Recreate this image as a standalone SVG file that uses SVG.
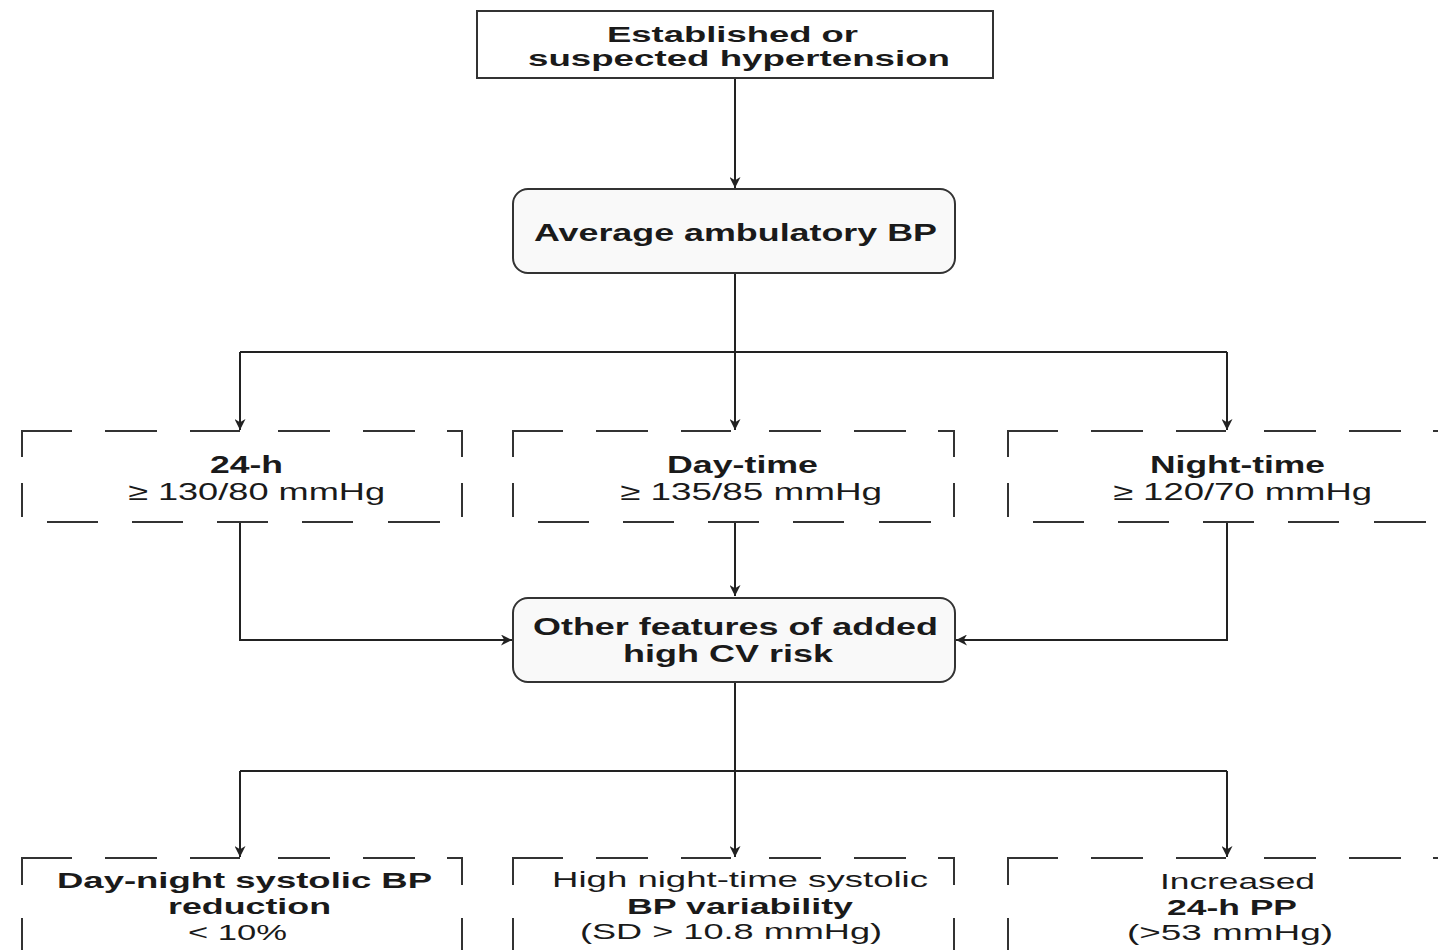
<svg xmlns="http://www.w3.org/2000/svg" width="1438" height="950" viewBox="0 0 1438 950">
<defs>
<marker id="arr" viewBox="0 0 10 10" refX="10" refY="5" markerWidth="11" markerHeight="11" markerUnits="userSpaceOnUse" orient="auto">
<path d="M0,0 L10,5 L0,10 L3,5 z" fill="#222"/>
</marker>
<style>
.box{fill:#fff;stroke:#333;stroke-width:2}
.rbox{fill:#f9f9f9;stroke:#333;stroke-width:2}
.dash{fill:none;stroke:#333;stroke-width:2}
.con{fill:none;stroke:#222;stroke-width:2}
.t{font-family:"Liberation Sans",Arial,sans-serif;fill:#1a1a1a}
.b{font-weight:bold}
</style>
</defs>
<rect width="1438" height="950" fill="#fff"/>

<g id="connectors">
<path class="con" d="M735,78 V188" marker-end="url(#arr)"/>
<path class="con" d="M735,273 V352"/>
<path class="con" d="M240,352 H1227"/>
<path class="con" d="M240,352 V430" marker-end="url(#arr)"/>
<path class="con" d="M735,352 V430" marker-end="url(#arr)"/>
<path class="con" d="M1227,352 V430" marker-end="url(#arr)"/>
<path class="con" d="M240,522 V640 H512" marker-end="url(#arr)"/>
<path class="con" d="M735,522 V596" marker-end="url(#arr)"/>
<path class="con" d="M1227,522 V640 H956" marker-end="url(#arr)"/>
<path class="con" d="M735,682 V771"/>
<path class="con" d="M240,771 H1227"/>
<path class="con" d="M240,771 V857" marker-end="url(#arr)"/>
<path class="con" d="M735,771 V857" marker-end="url(#arr)"/>
<path class="con" d="M1227,771 V857" marker-end="url(#arr)"/>
</g>

<g id="n-start">
<rect class="box" x="477" y="11" width="516" height="67"/>
<text class="t b" x="607" y="42" font-size="22" textLength="251" lengthAdjust="spacingAndGlyphs">Established or</text>
<text class="t b" x="528" y="66" font-size="22" textLength="422" lengthAdjust="spacingAndGlyphs">suspected hypertension</text>
</g>

<g id="n-avg">
<rect class="rbox" x="513" y="189" width="442" height="84" rx="15"/>
<text class="t b" x="534" y="241" font-size="23" textLength="403" lengthAdjust="spacingAndGlyphs">Average ambulatory BP</text>
</g>

<g id="n-24h">
<path class="dash" d="M22,457 V431 H72 M105,431 H157 M190,431 H240 M278,431 H330 M363,431 H415 M447,431 H462 V457 M22,483 V517 M462,483 V517 M47,522 H98 M132,522 H183 M217,522 H268 M302,522 H353 M388,522 H440"/>
<text class="t b" x="210" y="473" font-size="24" textLength="73" lengthAdjust="spacingAndGlyphs">24-h</text>
<text class="t" x="128" y="500" font-size="24" textLength="257" lengthAdjust="spacingAndGlyphs">≥ 130/80 mmHg</text>
</g>

<g id="n-day">
<path class="dash" transform="translate(491,0)" d="M22,457 V431 H72 M105,431 H157 M190,431 H240 M278,431 H330 M363,431 H415 M447,431 H463 V457 M22,483 V517 M463,483 V517 M47,522 H98 M132,522 H183 M217,522 H268 M302,522 H353 M388,522 H440"/>
<text class="t b" x="667" y="473" font-size="24" textLength="151" lengthAdjust="spacingAndGlyphs">Day-time</text>
<text class="t" x="620" y="500" font-size="24" textLength="262" lengthAdjust="spacingAndGlyphs">≥ 135/85 mmHg</text>
</g>

<g id="n-night">
<path class="dash" transform="translate(986,0)" d="M22,457 V431 H72 M105,431 H157 M190,431 H240 M278,431 H330 M363,431 H415 M447,431 H470 M22,483 V517 M47,522 H98 M132,522 H183 M217,522 H268 M302,522 H353 M388,522 H440"/>
<text class="t b" x="1150" y="473" font-size="24" textLength="175" lengthAdjust="spacingAndGlyphs">Night-time</text>
<text class="t" x="1113" y="500" font-size="24" textLength="259" lengthAdjust="spacingAndGlyphs">≥ 120/70 mmHg</text>
</g>

<g id="n-other">
<rect class="rbox" x="513" y="598" width="442" height="84" rx="15"/>
<text class="t b" x="533" y="635" font-size="23" textLength="405" lengthAdjust="spacingAndGlyphs">Other features of added</text>
<text class="t b" x="623" y="662" font-size="23" textLength="210" lengthAdjust="spacingAndGlyphs">high CV risk</text>
</g>

<g id="n-dip">
<path class="dash" d="M22,885 V858 H72 M105,858 H157 M190,858 H240 M278,858 H330 M363,858 H415 M447,858 H462 V885 M22,918 V952 M462,918 V952"/>
<text class="t b" x="57" y="888" font-size="22" textLength="375" lengthAdjust="spacingAndGlyphs">Day-night systolic BP</text>
<text class="t b" x="168" y="914" font-size="22" textLength="163" lengthAdjust="spacingAndGlyphs">reduction</text>
<text class="t" x="188" y="940" font-size="22" textLength="99" lengthAdjust="spacingAndGlyphs">&lt; 10%</text>
</g>

<g id="n-var">
<path class="dash" transform="translate(491,0)" d="M22,885 V858 H72 M105,858 H157 M190,858 H240 M278,858 H330 M363,858 H415 M447,858 H463 V885 M22,918 V952 M463,918 V952"/>
<text class="t" x="552" y="887" font-size="22" textLength="376" lengthAdjust="spacingAndGlyphs">High night-time systolic</text>
<text class="t b" x="627" y="914" font-size="22" textLength="226" lengthAdjust="spacingAndGlyphs">BP variability</text>
<text class="t" x="580" y="939" font-size="22" textLength="302" lengthAdjust="spacingAndGlyphs">(SD &gt; 10.8 mmHg)</text>
</g>

<g id="n-pp">
<path class="dash" transform="translate(986,0)" d="M22,885 V858 H72 M105,858 H157 M190,858 H240 M278,858 H330 M363,858 H415 M447,858 H470 M22,918 V952"/>
<text class="t" x="1160" y="889" font-size="22" textLength="155" lengthAdjust="spacingAndGlyphs">Increased</text>
<text class="t b" x="1167" y="915" font-size="22" textLength="130" lengthAdjust="spacingAndGlyphs">24-h PP</text>
<text class="t" x="1127" y="940" font-size="22" textLength="206" lengthAdjust="spacingAndGlyphs">(&gt;53 mmHg)</text>
</g>
</svg>
